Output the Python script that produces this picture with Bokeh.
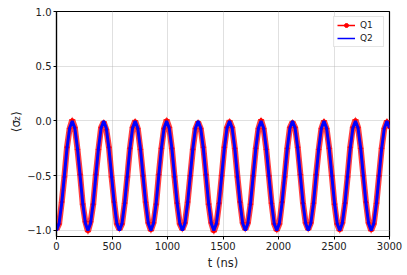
from bokeh.plotting import figure
from bokeh.layouts import row
from bokeh.models import (ColumnDataSource, FixedTicker, CustomJSTickFormatter,
                          Legend, LegendItem)
from bokeh.core.properties import value
from bokeh.embed import file_html
from bokeh.resources import INLINE

# time axis (ns)
t_ns = [0.0, 23.6, 47.3, 70.9, 94.5, 118.1, 141.8, 165.4, 189.0, 212.6, 236.3, 259.9,
        283.5, 307.1, 330.8, 354.4, 378.0, 401.6, 425.3, 448.9, 472.5, 496.1, 519.8, 543.4,
        567.0, 590.6, 614.3, 637.9, 661.5, 685.1, 708.8, 732.4, 756.0, 779.6, 803.3, 826.9,
        850.5, 874.1, 897.8, 921.4, 945.0, 968.6, 992.3, 1015.9, 1039.5, 1063.1, 1086.8, 1110.4,
        1134.0, 1157.6, 1181.3, 1204.9, 1228.5, 1252.1, 1275.8, 1299.4, 1323.0, 1346.6, 1370.3, 1393.9,
        1417.5, 1441.1, 1464.8, 1488.4, 1512.0, 1535.6, 1559.3, 1582.9, 1606.5, 1630.1, 1653.8, 1677.4,
        1701.0, 1724.6, 1748.3, 1771.9, 1795.5, 1819.1, 1842.8, 1866.4, 1890.0, 1913.6, 1937.3, 1960.9,
        1984.5, 2008.1, 2031.8, 2055.4, 2079.0, 2102.6, 2126.3, 2149.9, 2173.5, 2197.1, 2220.8, 2244.4,
        2268.0, 2291.6, 2315.3, 2338.9, 2362.5, 2386.1, 2409.8, 2433.4, 2457.0, 2480.6, 2504.3, 2527.9,
        2551.5, 2575.1, 2598.8, 2622.4, 2646.0, 2669.6, 2693.3, 2716.9, 2740.5, 2764.1, 2787.8, 2811.4,
        2835.0, 2858.6, 2882.3, 2905.9, 2929.5, 2953.1, 2976.8, 3000.0]

q1 = [-0.99, -0.94, -0.74, -0.51, -0.24, -0.07, 0.01, -0.06, -0.26, -0.49, -0.76, -0.92,
      -1.01, -0.92, -0.76, -0.49, -0.26, -0.06, -0.01, -0.08, -0.24, -0.51, -0.74, -0.94,
      -0.99, -0.94, -0.75, -0.51, -0.25, -0.06, 0.00, -0.07, -0.26, -0.50, -0.74, -0.93,
      -1.00, -0.93, -0.76, -0.49, -0.25, -0.07, 0.01, -0.06, -0.25, -0.51, -0.75, -0.94,
      -0.99, -0.93, -0.74, -0.50, -0.26, -0.07, -0.01, -0.07, -0.24, -0.49, -0.76, -0.93,
      -1.01, -0.94, -0.75, -0.50, -0.24, -0.06, 0.00, -0.06, -0.25, -0.51, -0.74, -0.93,
      -0.99, -0.93, -0.76, -0.50, -0.25, -0.07, 0.01, -0.07, -0.26, -0.50, -0.75, -0.94,
      -1.00, -0.94, -0.74, -0.51, -0.25, -0.06, -0.01, -0.06, -0.24, -0.49, -0.75, -0.93,
      -0.99, -0.93, -0.75, -0.49, -0.26, -0.07, 0.00, -0.07, -0.25, -0.50, -0.76, -0.94,
      -1.00, -0.93, -0.75, -0.51, -0.24, -0.06, 0.01, -0.06, -0.25, -0.50, -0.74, -0.93,
      -1.00, -0.94, -0.75, -0.50, -0.25, -0.07, 0.00, -0.06]

q2 = [-1.000, -0.933, -0.750, -0.500, -0.250, -0.067, 0.000, -0.067, -0.250, -0.500, -0.750, -0.933,
      -1.000, -0.933, -0.750, -0.500, -0.250, -0.067, 0.000, -0.067, -0.250, -0.500, -0.750, -0.933,
      -1.000, -0.933, -0.750, -0.500, -0.250, -0.067, 0.000, -0.067, -0.250, -0.500, -0.750, -0.933,
      -1.000, -0.933, -0.750, -0.500, -0.250, -0.067, 0.000, -0.067, -0.250, -0.500, -0.750, -0.933,
      -1.000, -0.933, -0.750, -0.500, -0.250, -0.067, 0.000, -0.067, -0.250, -0.500, -0.750, -0.933,
      -1.000, -0.933, -0.750, -0.500, -0.250, -0.067, 0.000, -0.067, -0.250, -0.500, -0.750, -0.933,
      -1.000, -0.933, -0.750, -0.500, -0.250, -0.067, 0.000, -0.067, -0.250, -0.500, -0.750, -0.933,
      -1.000, -0.933, -0.750, -0.500, -0.250, -0.067, 0.000, -0.067, -0.250, -0.500, -0.750, -0.933,
      -1.000, -0.933, -0.750, -0.500, -0.250, -0.067, 0.000, -0.067, -0.250, -0.500, -0.750, -0.933,
      -1.000, -0.933, -0.750, -0.500, -0.250, -0.067, 0.000, -0.067, -0.250, -0.500, -0.750, -0.933,
      -1.000, -0.933, -0.750, -0.500, -0.250, -0.067, 0.000, -0.065]

x_ticks = [0, 500, 1000, 1500, 2000, 2500, 3000]
y_ticks = [-1.0, -0.5, 0.0, 0.5, 1.0]
series_names = ["Q1", "Q2"]
# y-axis label pieces: <sigma_z>
ylabel_parts = ["\u27e8\u03c3", "z", "\u27e9"]

src = ColumnDataSource(dict(t=t_ns, q1=q1, q2=q2))

FONT = "DejaVu Sans"
SIDE_W = 24
TOTAL_H = 275
p = figure(width=407 - SIDE_W, height=TOTAL_H, output_backend="svg", toolbar_location=None,
           x_range=(0, 3000), y_range=(-1.055, 1.0),
           min_border_left=55 - SIDE_W, min_border_right=18, min_border_top=11, min_border_bottom=39)
p.background_fill_color = "white"
p.border_fill_color = "white"
p.outline_line_color = "black"
p.outline_line_width = 1.2

# thin legend swatch renderers (drawn first, hidden under the main traces)
sw_q1_line = p.line("t", "q1", source=src, color="#ff0000", line_width=1.5)
sw_q1_mark = p.scatter("t", "q1", source=src, marker="circle", size=3, color="#ff0000")
sw_q2_line = p.line("t", "q2", source=src, color="#0000ff", line_width=1.5)

# Q1: red line with dense markers
p.line("t", "q1", source=src, color="#ff0000", line_width=6, alpha=0.75)
p.scatter("t", "q1", source=src, marker="cross", size=6, color="#ff0000", alpha=0.5)
# Q2: blue line
p.line("t", "q2", source=src, color="#0000ff", line_width=3)

legend = Legend(items=[LegendItem(label=series_names[0], renderers=[sw_q1_line, sw_q1_mark]),
                       LegendItem(label=series_names[1], renderers=[sw_q2_line])],
                location="top_right")
p.add_layout(legend)
legend.margin = 5
legend.padding = 3
legend.spacing = 3
legend.label_text_font = FONT
legend.label_text_font_size = "9px"
legend.label_text_color = "#222222"
legend.label_height = 10
legend.glyph_height = 10
legend.glyph_width = 18
legend.label_standoff = 5
legend.border_line_color = "#cccccc"
legend.border_line_width = 1
legend.background_fill_alpha = 0.85

for ax in (p.xaxis[0], p.yaxis[0]):
    ax.axis_line_color = "black"
    ax.axis_line_width = 1.2
    ax.major_tick_line_color = "black"
    ax.major_tick_out = 3
    ax.major_tick_in = 0
    ax.minor_tick_line_color = None
    ax.major_label_text_font = FONT
    ax.major_label_text_font_size = "10px"
    ax.major_label_text_color = "#222222"
    ax.major_label_standoff = 2

p.xaxis.ticker = FixedTicker(ticks=x_ticks)
p.yaxis.ticker = FixedTicker(ticks=y_ticks)
p.yaxis.formatter = CustomJSTickFormatter(code="return tick.toFixed(1).replace('-', '\u2212');")
p.xaxis.axis_label = "t (ns)"
p.xaxis.axis_label_text_font = FONT
p.xaxis.axis_label_text_font_size = "11.5px"
p.xaxis.axis_label_text_font_style = "normal"
p.xaxis.axis_label_text_color = "#222222"
p.xaxis.axis_label_standoff = 3

for g in (p.xgrid[0], p.ygrid[0]):
    g.grid_line_color = "#b0b0b0"
    g.grid_line_dash = "1 1"
    g.grid_line_width = 0.8
p.xgrid.ticker = FixedTicker(ticks=x_ticks)
p.ygrid.ticker = FixedTicker(ticks=y_ticks)

# narrow strip at the left holding the rotated y-axis label (pixel-like data coordinates)
side = figure(width=SIDE_W, height=TOTAL_H, output_backend="svg", toolbar_location=None,
              x_range=(0, SIDE_W), y_range=(0, TOTAL_H),
              x_axis_location=None, y_axis_location=None,
              min_border_left=0, min_border_right=0, min_border_top=0, min_border_bottom=0)
side.outline_line_color = None
side.grid.visible = False
side.background_fill_color = "white"
side.border_fill_color = "white"
lab_src = ColumnDataSource(dict(
    x=[15, 16, 15],
    y=[TOTAL_H - 147.5, TOTAL_H - 133.5, TOTAL_H - 127.5],
    text=ylabel_parts,
    size=["12px", "8.5px", "12px"],
))
side.text(x="x", y="y", text="text", source=lab_src, angle=90, angle_units="deg",
          text_font=value(FONT), text_font_size="size", text_color="#222222",
          text_align="left", text_baseline="alphabetic")

layout = row(side, p)
open("out.html", "w").write(file_html(layout, INLINE))
